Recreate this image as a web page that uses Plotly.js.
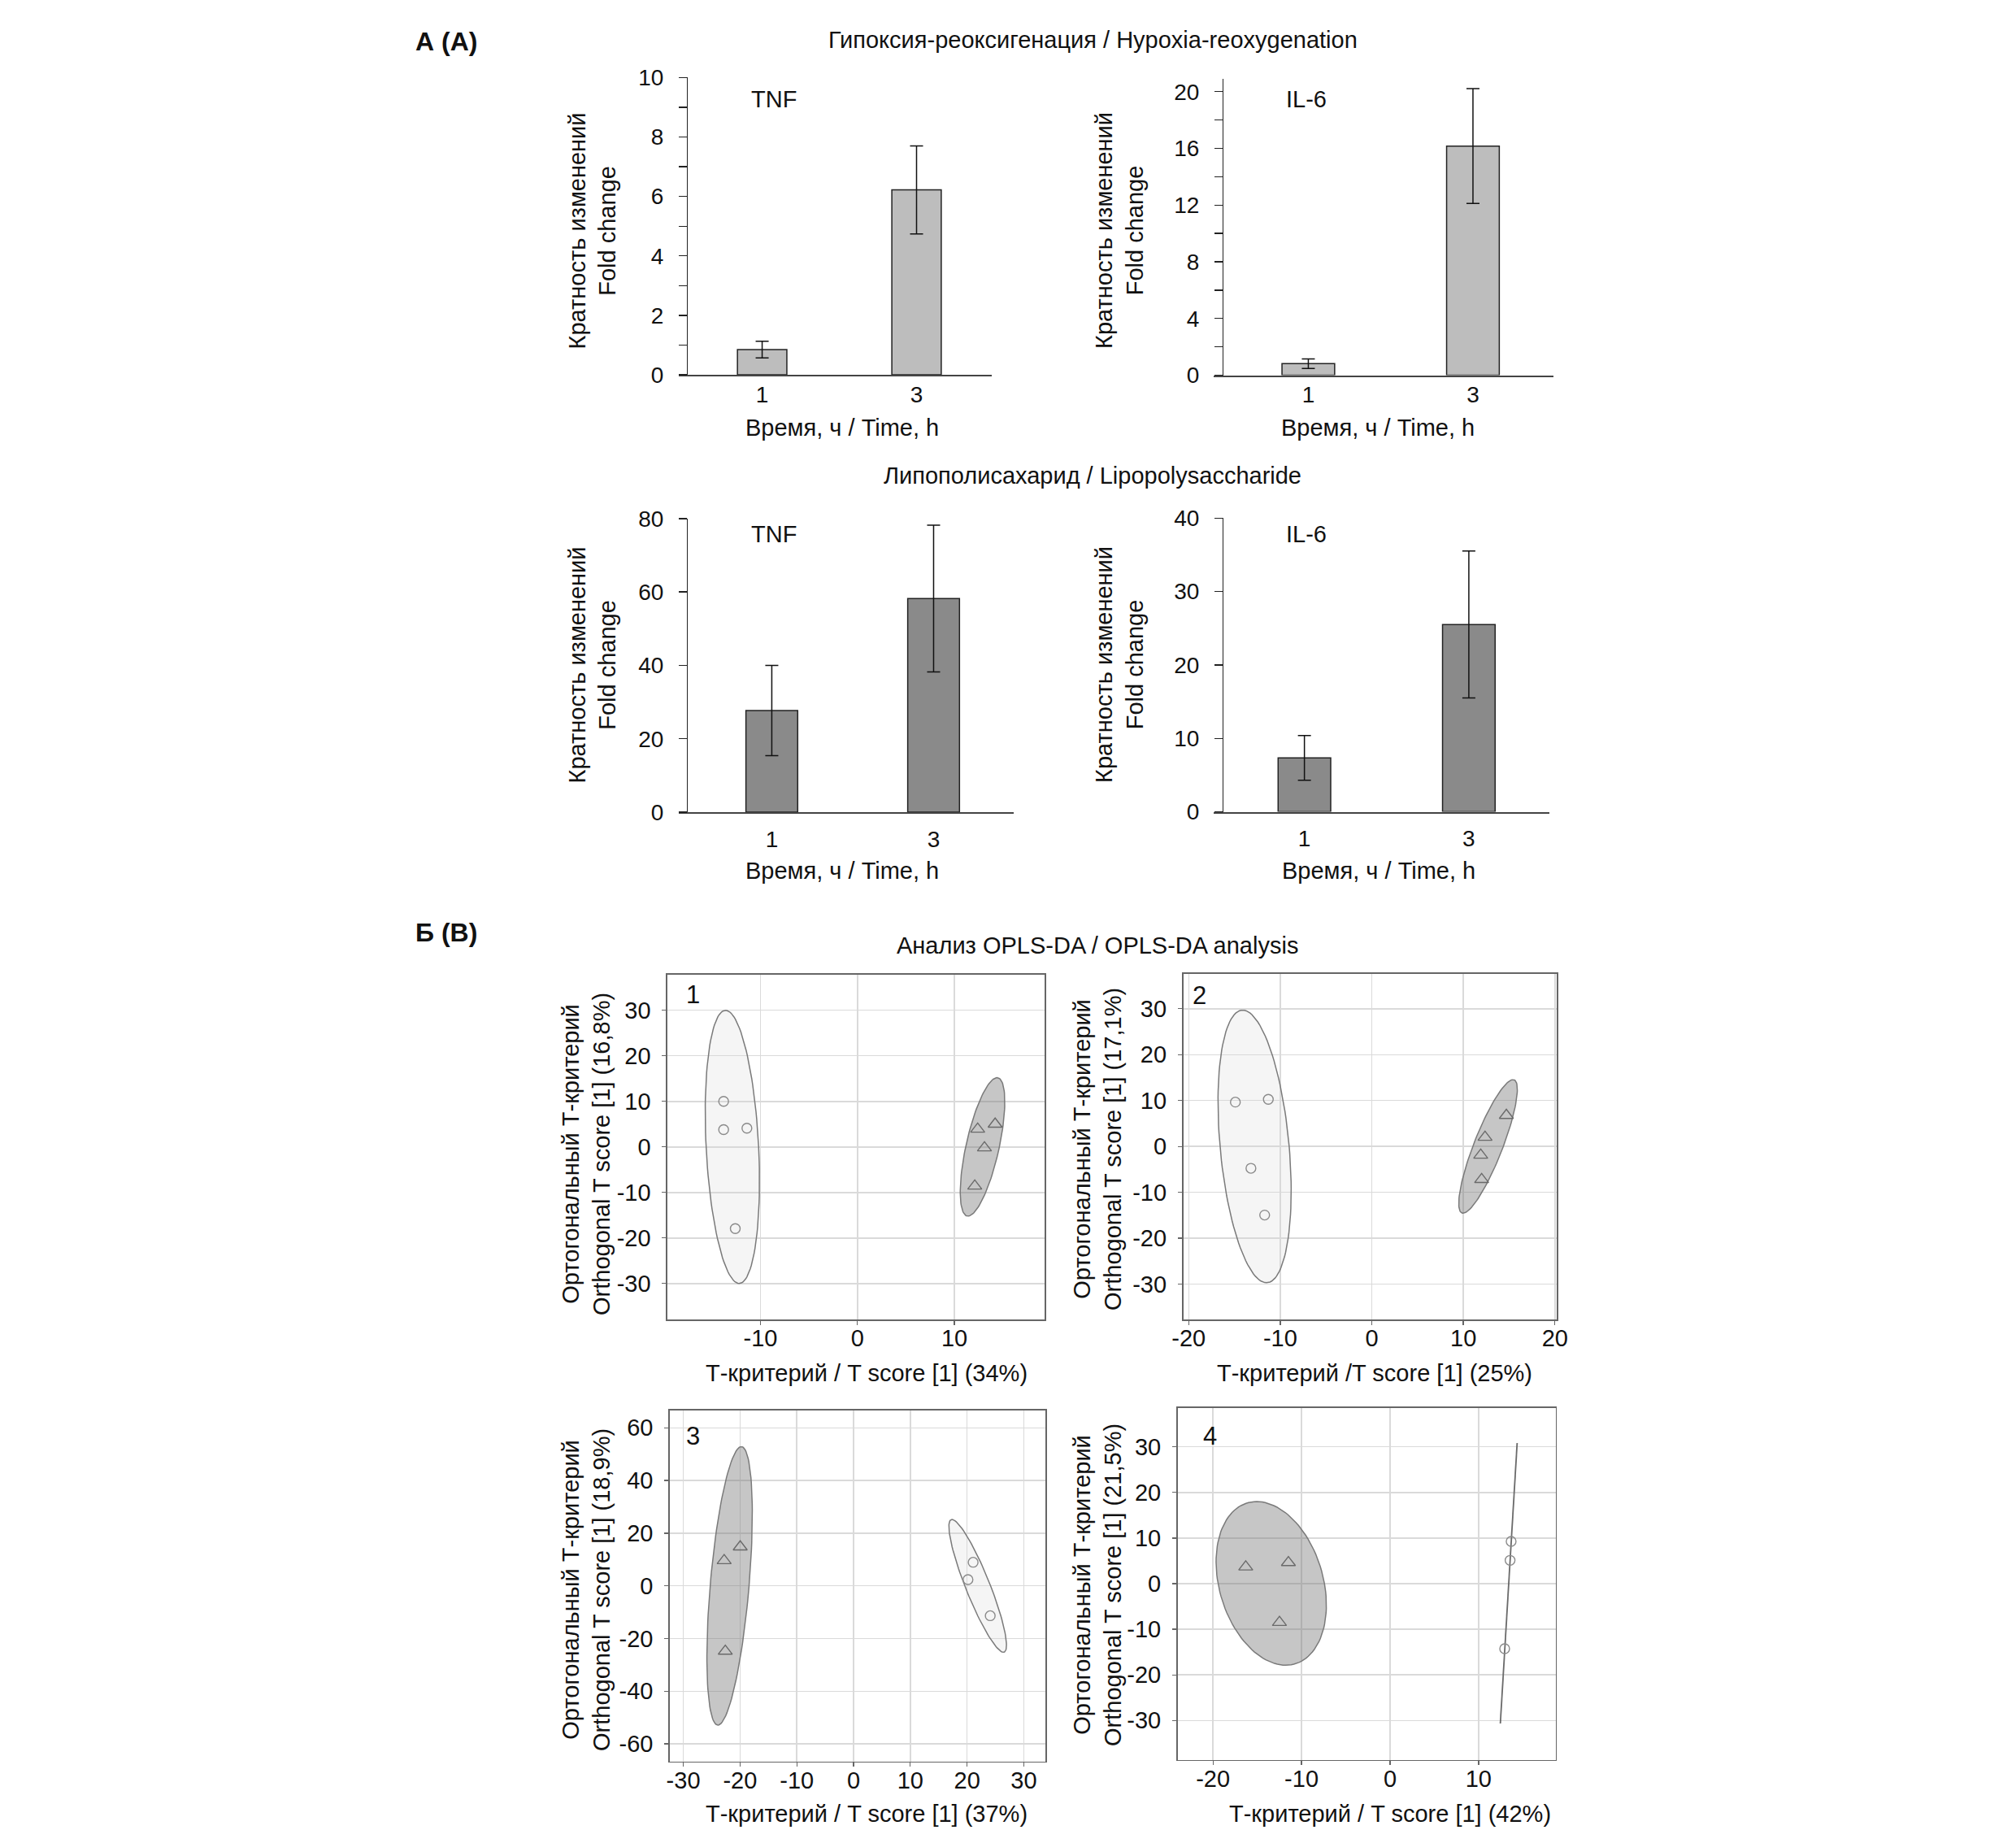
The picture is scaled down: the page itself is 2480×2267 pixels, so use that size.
<!DOCTYPE html>
<html><head><meta charset="utf-8">
<script src="https://cdn.plot.ly/plotly-3.0.1.min.js"></script>
<style>body{margin:0;background:#fff}#chart{width:2480px;height:2267px}</style>
</head><body><div id="chart"></div>
<script>
const W = 2480, H = 2267;

// ---- Panel A: bar data (fold change) ----
const timeCats = ['1', '3'];
const hrTnf = [0.85, 6.22];
const hrTnfErr = [0.28, 1.48];
const hrIl6 = [0.81, 16.16];
const hrIl6Err = [0.33, 4.05];
const lpsTnf = [27.7, 58.2];
const lpsTnfErr = [12.3, 20.0];
const lpsIl6 = [7.35, 25.5];
const lpsIl6Err = [3.05, 10.0];

// ---- Panel B: OPLS-DA scores ----
const p1CircX = [-13.8, -13.8, -11.4, -12.6];
const p1CircY = [10.0, 3.8, 4.1, -17.95];
const p1TriX = [12.4, 14.2, 13.1, 12.1];
const p1TriY = [3.9, 5.0, -0.2, -8.6];
const p2CircX = [-14.9, -11.3, -13.2, -11.7];
const p2CircY = [9.66, 10.25, -4.77, -14.96];
const p2TriX = [14.7, 12.37, 11.9, 12.0];
const p2TriY = [6.77, 2.0, -1.9, -7.2];
const p3TriX = [-19.97, -22.8, -22.6];
const p3TriY = [14.8, 9.6, -24.8];
const p3CircX = [21.07, 20.16, 24.08];
const p3CircY = [8.96, 2.37, -11.33];
const p4TriX = [-16.3, -11.48, -12.49];
const p4TriY = [3.68, 4.63, -8.5];
const p4CircX = [13.68, 13.56, 12.95];
const p4CircY = [9.27, 5.11, -14.26];

// confidence ellipses: [cx, cy, halfHeight, topOffsetX, halfWidthAtCenter]
const p1EllLight = [-12.9, 0, 30, -0.7, 2.71];
const p1EllDark = [12.9, 0, 15.2, 1.5, 1.74];
const p2EllLight = [-12.8, 0, 29.7, -1.3, 3.78];
const p2EllDark = [12.7, 0, 14.55, 2.73, 1.67];
const p3EllDark = [-21.84, 0, 52.85, 2.06, 3.43];
const p3EllLight = [21.87, 0, 25.2, -4.53, 2.28];
const p4EllDark = [-13.42, 0.06, 17.94, -1.64, 6.01];
const p4LineX = [14.36, 12.46];
const p4LineY = [30.84, -30.66];

// tick values of the score plots
const p1XTicks = [-10, 0, 10];
const p2XTicks = [-20, -10, 0, 10, 20];
const p3XTicks = [-30, -20, -10, 0, 10, 20, 30];
const p4XTicks = [-20, -10, 0, 10];
const pYTicks30 = [-30, -20, -10, 0, 10, 20, 30];
const p3YTicks = [-60, -40, -20, 0, 20, 40, 60];

const FONT = 'Liberation Sans, Arial, sans-serif';
const NARROW = 'Liberation Sans Narrow, Arial Narrow, Liberation Sans, Arial, sans-serif';
const dx = (a, b) => [a / W, b / W];
const dy = (top, bot) => [1 - bot / H, 1 - top / H];

function ellipse(e) {
  const [cx, cy, h, q, p] = e;
  const xs = [], ys = [];
  for (let i = 0; i <= 120; i++) {
    const t = 2 * Math.PI * i / 120;
    xs.push(cx + p * Math.cos(t) + q * Math.sin(t));
    ys.push(cy + h * Math.sin(t));
  }
  return {x: xs, y: ys};
}

const traces = [];
function bar(xa, ya, vals, errs, color) {
  traces.push({type: 'bar', x: timeCats, y: vals, xaxis: xa, yaxis: ya, width: 0.32,
    marker: {color: color, line: {color: '#222', width: 1.5}},
    error_y: {type: 'data', array: errs, visible: true, color: '#111', thickness: 1.5, width: 8},
    hoverinfo: 'skip'});
}
bar('x', 'y', hrTnf, hrTnfErr, '#bdbdbd');
bar('x2', 'y2', hrIl6, hrIl6Err, '#bdbdbd');
bar('x3', 'y3', lpsTnf, lpsTnfErr, '#8a8a8a');
bar('x4', 'y4', lpsIl6, lpsIl6Err, '#8a8a8a');

const LIGHT_FILL = 'rgba(215,215,215,0.25)', DARK_FILL = 'rgba(120,120,120,0.42)';
function ell(xa, ya, e, fill) {
  const pts = ellipse(e);
  traces.push({type: 'scatter', mode: 'lines', x: pts.x, y: pts.y, xaxis: xa, yaxis: ya,
    fill: 'toself', fillcolor: fill, line: {color: '#7a7a7a', width: 1.5}, hoverinfo: 'skip'});
}
function pts(xa, ya, xs, ys, sym) {
  const tri = sym === 'triangle-up-open';
  traces.push({type: 'scatter', mode: 'markers', x: xs, y: ys, xaxis: xa, yaxis: ya,
    marker: {symbol: sym, size: tri ? 15 : 12, color: tri ? '#6a6a6a' : '#8a8a8a', line: {width: 1.4}},
    hoverinfo: 'skip'});
}
ell('x5', 'y5', p1EllLight, LIGHT_FILL);
ell('x5', 'y5', p1EllDark, DARK_FILL);
pts('x5', 'y5', p1CircX, p1CircY, 'circle-open');
pts('x5', 'y5', p1TriX, p1TriY, 'triangle-up-open');
ell('x6', 'y6', p2EllLight, LIGHT_FILL);
ell('x6', 'y6', p2EllDark, DARK_FILL);
pts('x6', 'y6', p2CircX, p2CircY, 'circle-open');
pts('x6', 'y6', p2TriX, p2TriY, 'triangle-up-open');
ell('x7', 'y7', p3EllDark, DARK_FILL);
ell('x7', 'y7', p3EllLight, LIGHT_FILL);
pts('x7', 'y7', p3TriX, p3TriY, 'triangle-up-open');
pts('x7', 'y7', p3CircX, p3CircY, 'circle-open');
ell('x8', 'y8', p4EllDark, DARK_FILL);
traces.push({type: 'scatter', mode: 'lines', x: p4LineX, y: p4LineY, xaxis: 'x8', yaxis: 'y8',
  line: {color: '#6a6a6a', width: 1.8}, hoverinfo: 'skip'});
pts('x8', 'y8', p4TriX, p4TriY, 'triangle-up-open');
pts('x8', 'y8', p4CircX, p4CircY, 'circle-open');

const tickFont = {family: FONT, size: 28, color: '#111'};
function barX(d, range, anchor, tl, so) {
  return {domain: d, type: 'category', range: range, anchor: anchor, showline: true, linecolor: '#444', linewidth: 2.2,
    ticks: 'outside', ticklen: tl, tickcolor: 'rgba(0,0,0,0)', ticklabelstandoff: so, tickfont: tickFont,
    showgrid: false, zeroline: false, fixedrange: true};
}
function barY(d, range, pos, dt, mdt) {
  const a = {domain: d, range: range, anchor: 'free', position: pos / W, showline: true, linecolor: '#222', linewidth: 1.4,
    ticks: 'outside', ticklen: 10, tickwidth: 1.4, tickcolor: '#222', dtick: dt, tick0: 0, tickfont: tickFont,
    showgrid: false, zeroline: false, fixedrange: true, ticklabelstandoff: 13};
  if (mdt) a.minor = {dtick: mdt, tick0: 0, ticks: 'outside', ticklen: 10, tickwidth: 1.4, tickcolor: '#222', showgrid: false};
  return a;
}
const scFont = {family: NARROW, size: 29, color: '#111'};
function scAx(d, range, anchor, tv, so) {
  return {domain: d, range: range, anchor: anchor, showline: true, mirror: true, linecolor: '#666', linewidth: 1.6,
    ticks: 'outside', ticklen: 5, tickwidth: 1.3, tickcolor: '#666', tickmode: 'array', tickvals: tv, ticktext: tv.map(String),
    tickfont: scFont, ticklabelstandoff: so,
    showgrid: true, gridcolor: '#dadada', gridwidth: 1.5, zeroline: false, fixedrange: true};
}

const layout = {
  width: W, height: H, margin: {l: 0, r: 0, t: 0, b: 0}, showlegend: false,
  paper_bgcolor: '#fff', plot_bgcolor: 'rgba(0,0,0,0)', font: {family: FONT, color: '#111'},
  xaxis: barX(dx(835, 1220), [-0.54, 1.487], 'y', 0, -2),
  yaxis: barY(dy(95.4, 461), [0, 10], 845, 2, 1),
  xaxis2: barX(dx(1493, 1911), [-0.575, 1.489], 'y2', 0, -2),
  yaxis2: barY(dy(97, 461.5), [0, 20.9], 1504, 4, 2),
  xaxis3: barX(dx(835, 1247), [-0.575, 1.495], 'y3', 7, 0),
  yaxis3: barY(dy(637.9, 999), [0, 80], 845, 20, null),
  xaxis4: barX(dx(1493, 1906), [-0.552, 1.49], 'y4', 7, 0),
  yaxis4: barY(dy(637.2, 998.6), [0, 40], 1504, 10, null),
  xaxis5: scAx(dx(821, 1285), [-19.6, 19.3], 'y5', p1XTicks, -8),
  yaxis5: scAx(dy(1198.5, 1623), [-37.9, 37.9], 'x5', pYTicks30, 8),
  xaxis6: scAx(dx(1455.5, 1915), [-20.6, 20.2], 'y6', p2XTicks, -8),
  yaxis6: scAx(dy(1197.9, 1623), [-37.7, 37.6], 'x6', pYTicks30, 8),
  xaxis7: scAx(dx(823.8, 1286), [-32.4, 33.8], 'y7', p3XTicks, -8),
  yaxis7: scAx(dy(1734.6, 2166.8), [-66.7, 66.7], 'x7', p3YTicks, 8),
  xaxis8: scAx(dx(1448.6, 1913.6), [-24, 18.7], 'y8', p4XTicks, -8),
  yaxis8: scAx(dy(1731.5, 2164.5), [-38.6, 38.6], 'x8', pYTicks30, 8),
  annotations: []
};

function ann(text, x, y, size, opts) {
  layout.annotations.push(Object.assign({text: text, xref: 'paper', yref: 'paper', x: x / W, y: 1 - y / H,
    xanchor: 'center', yanchor: 'middle', showarrow: false, font: {family: FONT, size: size, color: '#111'}}, opts || {}));
}
ann('<b>А (A)</b>', 509, 51, 32, {xanchor: 'left'});
ann('<b>Б (B)</b>', 509, 1147, 32, {xanchor: 'left'});
ann('Гипоксия-реоксигенация / Hypoxia-reoxygenation', 1344, 49, 29);
ann('Липополисахарид / Lipopolysaccharide', 1344, 585, 29);
ann('Анализ OPLS-DA / OPLS-DA analysis', 1350, 1163, 29);
ann('TNF', 952, 122, 29); ann('IL-6', 1607, 122, 29);
ann('TNF', 952, 657, 29); ann('IL-6', 1607, 657, 29);
const xtA = 'Время, ч / Time, h';
ann(xtA, 1036, 526, 29); ann(xtA, 1695, 526, 29);
ann(xtA, 1036, 1071, 29); ann(xtA, 1696, 1071, 29);
const ytA = 'Кратность изменений<br>Fold change';
ann(ytA, 728.5, 284, 29, {textangle: -90}); ann(ytA, 1377, 284, 29, {textangle: -90});
ann(ytA, 728.5, 818, 29, {textangle: -90}); ann(ytA, 1377, 818, 29, {textangle: -90});
ann('Т-критерий / T score [1] (34%)', 1066, 1689, 29);
ann('Т-критерий /T score [1] (25%)', 1691, 1689, 29);
ann('Т-критерий / T score [1] (37%)', 1066, 2231, 29);
ann('Т-критерий / T score [1] (42%)', 1710, 2231, 29);
ann('Ортогональный Т-критерий<br>Orthogonal T score [1] (16,8%)', 721, 1420, 29, {textangle: -90});
ann('Ортогональный Т-критерий<br>Orthogonal T score [1] (17,1%)', 1350, 1414, 29, {textangle: -90});
ann('Ортогональный Т-критерий<br>Orthogonal T score [1] (18,9%)', 721, 1956, 29, {textangle: -90});
ann('Ортогональный Т-критерий<br>Orthogonal T score [1] (21,5%)', 1350, 1950, 29, {textangle: -90});
ann('1', 852, 1223, 31); ann('2', 1475, 1224, 31);
ann('3', 852, 1766, 31); ann('4', 1488, 1766, 31);

Plotly.newPlot('chart', traces, layout, {staticPlot: true, displayModeBar: false});
</script></body></html>
